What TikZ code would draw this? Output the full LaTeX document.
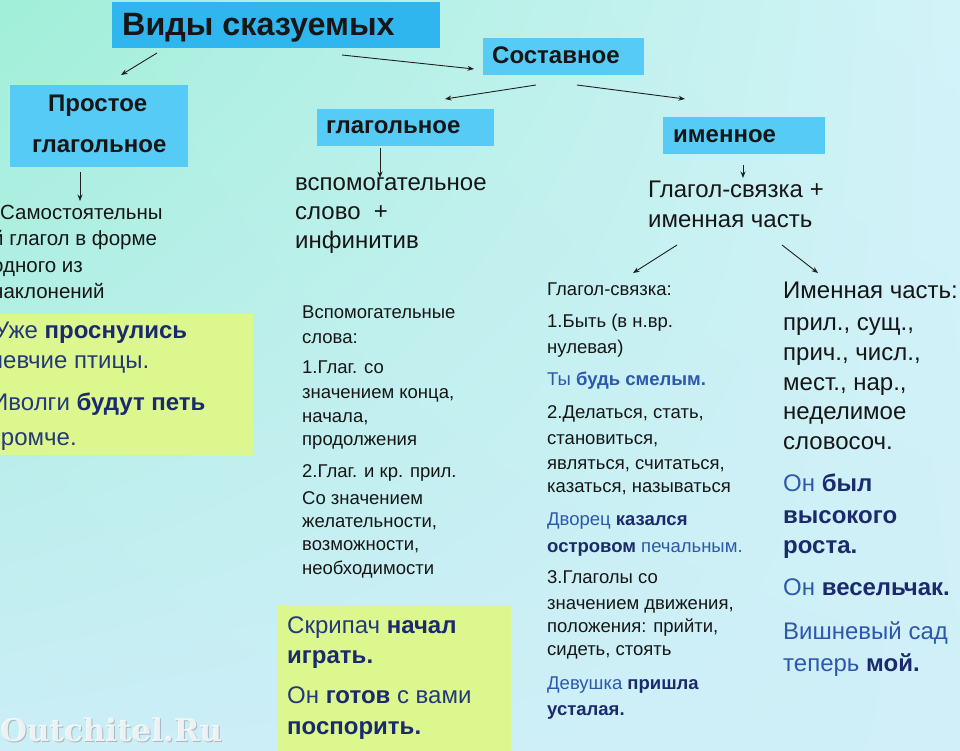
\documentclass[tikz,border=0pt]{standalone}
\usepackage{fontspec}
\setmainfont{Liberation Sans}
\newfontfamily\wmfont{DejaVu Serif}
\usetikzlibrary{arrows.meta,shadings}
\definecolor{bgTL}{HTML}{A0EFD8}
\definecolor{bgTR}{HTML}{D3F3F9}
\definecolor{bgBL}{HTML}{CBEEF7}
\definecolor{bgBR}{HTML}{D0EFF8}
\definecolor{titleblue}{HTML}{30B6EE}
\definecolor{boxblue}{HTML}{56CBF5}
\definecolor{greenbox}{HTML}{DCF78E}
\definecolor{ink}{HTML}{161616}
\definecolor{navy}{HTML}{1B2A6C}
\definecolor{navyreg}{HTML}{24387A}
\definecolor{exblue}{HTML}{2D58AC}
\definecolor{arrowc}{HTML}{202020}
\begin{document}
\begin{tikzpicture}[x=1pt,y=-1pt,
  t/.style={anchor=base west, inner sep=0pt, text=ink},
  big/.style={t, font=\fontsize{24}{28}\selectfont},
  bigb/.style={t, font=\bfseries\fontsize{24}{28}\selectfont},
  mid/.style={t, font=\fontsize{20.5}{25}\selectfont},
  sm/.style={t, font=\fontsize{18.5}{22}\selectfont},
  smb/.style={t, font=\bfseries\fontsize{18.5}{22}\selectfont},
  lbl/.style={t, font=\bfseries\fontsize{24}{28}\selectfont},
  hbox/.style={fill=boxblue, inner sep=0pt, anchor=north west},
  gbox/.style={fill=greenbox, inner sep=0pt, anchor=north west},
  arr/.style={-{Stealth[length=6.5pt,width=5pt]}, line width=0.9pt, draw=arrowc}]
\useasboundingbox (0,0) rectangle (960,750);
\begin{scope}
\clip (0,0) rectangle (960,750);
\shade[upper left=bgTL, upper right=bgTR, lower left=bgBL, lower right=bgBR] (0,0) rectangle (960,750);

% header boxes
\node[hbox, fill=titleblue, minimum width=328pt, minimum height=46pt] (title) at (112,2) {};
\node[t, font=\bfseries\fontsize{32.3}{36}\selectfont] (titleT) at (122,35) {Виды сказуемых};
\node[hbox, minimum width=161pt, minimum height=37pt] (sost) at (483,38) {};
\node[lbl] (sostT) at (492,63) {Составное};
\node[hbox, minimum width=178pt, minimum height=82pt] (prost) at (10,85) {};
\node[lbl] (prostT1) at (48,111) {Простое};
\node[lbl] (prostT2) at (32,152) {глагольное};
\node[hbox, minimum width=177pt, minimum height=37pt] (glag) at (317,109) {};
\node[lbl] (glagT) at (326,133) {глагольное};
\node[hbox, minimum width=162pt, minimum height=37pt] (imen) at (663,117) {};
\node[lbl] (imenT) at (673,142) {именное};

% green boxes
\node[gbox, minimum width=253pt, minimum height=141pt] (g1) at (0,314) {};
\node[gbox, minimum width=234pt, minimum height=150pt] (g2) at (277,605) {};

% arrows
\coordinate (a1s) at (157,53);  \coordinate (a1e) at (121,75);
\coordinate (a2s) at (342,55);  \coordinate (a2e) at (474,69);
\coordinate (a3s) at (536,85);  \coordinate (a3e) at (445,99);
\coordinate (a4s) at (577,85);  \coordinate (a4e) at (685,99);
\coordinate (a5s) at (80,172);  \coordinate (a5e) at (80,201);
\coordinate (a6s) at (380,148); \coordinate (a6e) at (380,178);
\coordinate (a7s) at (743,165); \coordinate (a7e) at (743,178);
\coordinate (a8s) at (677,245); \coordinate (a8e) at (633,273);
\coordinate (a9s) at (782,245); \coordinate (a9e) at (818,273);
\draw[arr] (a1s) -- (a1e);
\draw[arr] (a2s) -- (a2e);
\draw[arr] (a3s) -- (a3e);
\draw[arr] (a4s) -- (a4e);
\draw[arr] (a5s) -- (a5e);
\draw[arr] (a6s) -- (a6e);
\draw[arr] (a7s) -- (a7e);
\draw[arr] (a8s) -- (a8e);
\draw[arr] (a9s) -- (a9e);

% left column (cut off at the left edge, as in the slide)
\node[mid] (l1) at (0,219) {Самостоятельны};
\node[mid] (l2) at (-8,245) {й глагол в форме};
\node[mid] (l3) at (-8,272) {одного из};
\node[mid] (l4) at (-8,298) {наклонений};
\node[big, text=navyreg] (e1) at (-6,338) {Уже {\color{navy}\bfseries проснулись}};
\node[big, text=navyreg] (e2) at (-10,368) {певчие птицы.};
\node[big, text=navyreg] (e3) at (-9,410) {Иволги {\color{navy}\bfseries будут петь}};
\node[big, text=navyreg] (e4) at (-8,445) {громче.};

% middle column
\node[big] (m1) at (295,190) {вспомогательное};
\node[big] (m2) at (295,219) {слово \ +};
\node[big] (m3) at (295,248) {инфинитив};
\node[sm] (s1) at (302,318) {Вспомогательные};
\node[sm] (s2) at (302,343) {слова:};
\node[sm] (s3) at (302,373) {1.Глаг. со};
\node[sm] (s4) at (302,398) {значением конца,};
\node[sm] (s5) at (302,422) {начала,};
\node[sm] (s6) at (302,445) {продолжения};
\node[sm] (s7) at (302,477) {2.Глаг. и кр. прил.};
\node[sm] (s8) at (302,504) {Со значением};
\node[sm] (s9) at (302,527) {желательности,};
\node[sm] (s10) at (302,550) {возможности,};
\node[sm] (s11) at (302,574) {необходимости};
\node[big, text=navyreg] (f1) at (287,633) {Скрипач {\color{navy}\bfseries начал}};
\node[bigb, text=navy] (f2) at (287,663) {играть.};
\node[big, text=navyreg] (f3) at (287,703) {Он {\color{navy}\bfseries готов} с вами};
\node[bigb, text=navy] (f4) at (287,734) {поспорить.};

% right-middle
\node[big] (r1) at (648,197) {Глагол-связка +};
\node[big] (r2) at (648,227) {именная часть};

% column 3
\node[sm] (c1) at (547,295) {Глагол-связка:};
\node[sm] (c2) at (547,327) {1.Быть (в н.вр.};
\node[sm] (c3) at (547,353) {нулевая)};
\node[sm, text=exblue] (c4) at (547,385) {Ты {\bfseries будь смелым.}};
\node[sm] (c5) at (547,418) {2.Делаться, стать,};
\node[sm] (c6) at (547,444) {становиться,};
\node[sm] (c7) at (547,469) {являться, считаться,};
\node[sm] (c8) at (547,492) {казаться, называться};
\node[sm, text=exblue] (c9) at (547,525) {Дворец {\color{navy}\bfseries казался}};
\node[sm, text=exblue] (c10) at (547,552) {{\color{navy}\bfseries островом} печальным.};
\node[sm] (c11) at (547,583) {3.Глаголы со};
\node[sm] (c12) at (547,609) {значением движения,};
\node[sm] (c13) at (547,632) {положения: прийти,};
\node[sm] (c14) at (547,655) {сидеть, стоять};
\node[sm, text=exblue] (c15) at (547,689) {Девушка {\color{navy}\bfseries пришла}};
\node[smb, text=navy] (c16) at (547,715) {усталая.};

% column 4
\node[big] (d1) at (783,298) {Именная часть:};
\node[big] (d2) at (783,330) {прил., сущ.,};
\node[big] (d3) at (783,360) {прич., числ.,};
\node[big] (d4) at (783,390) {мест., нар.,};
\node[big] (d5) at (783,419) {неделимое};
\node[big] (d6) at (783,449) {словосоч.};
\node[big, text=exblue] (d7) at (783,491) {Он {\color{navy}\bfseries был}};
\node[bigb, text=navy] (d8) at (783,523) {высокого};
\node[bigb, text=navy] (d9) at (783,553) {роста.};
\node[big, text=exblue] (d10) at (783,595) {Он {\color{navy}\bfseries весельчак.}};
\node[big, text=exblue] (d11) at (783,639) {Вишневый сад};
\node[big, text=exblue] (d12) at (783,671) {теперь {\color{navy}\bfseries мой.}};

% watermark
\node[t, text=white!70!cyan!45!gray, font=\wmfont\bfseries\fontsize{31}{35}\selectfont] (wm0) at (1,742) {Outchitel.Ru};
\node[t, text=white, opacity=0.8, font=\wmfont\bfseries\fontsize{31}{35}\selectfont] (wm) at (0,741) {Outchitel.Ru};
\end{scope}
\end{tikzpicture}
\end{document}
